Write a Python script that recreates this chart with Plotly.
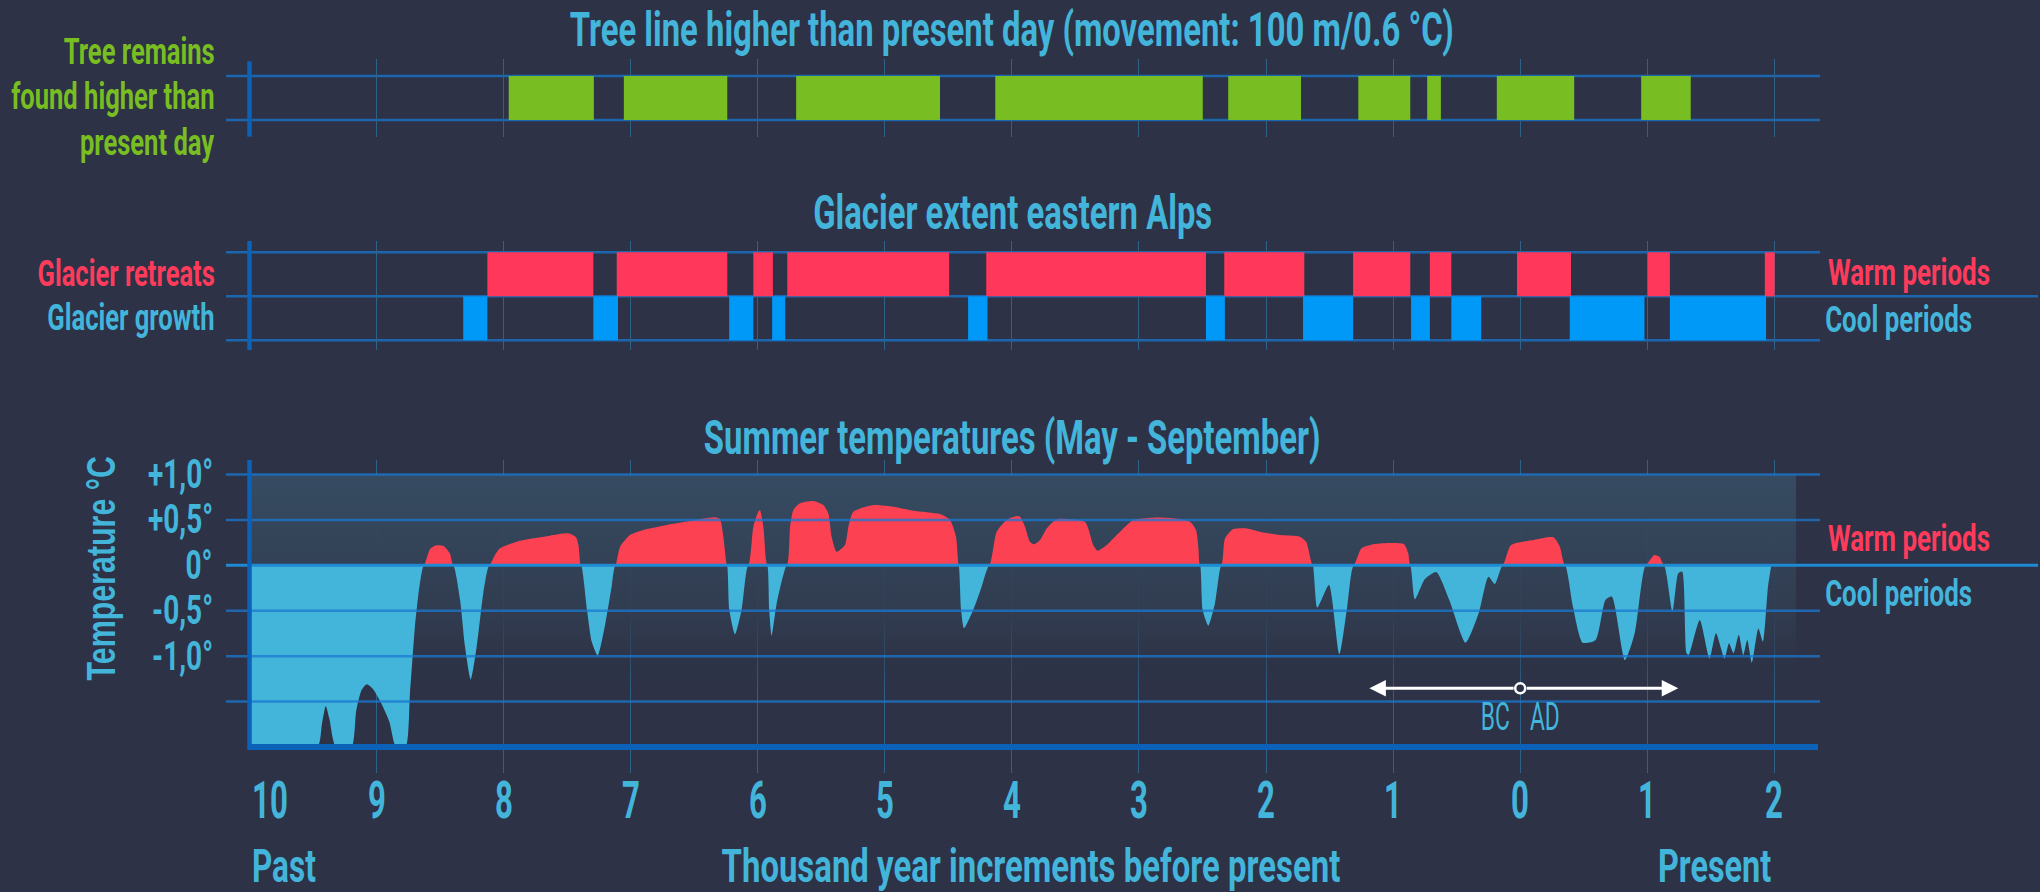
import plotly.graph_objects as go

# ---------------- data ----------------
# x values in thousand years (negative = BC, positive = AD)
tree_start = [-7.96, -7.054, -5.698, -4.131, -2.298, -1.274, -0.732, -0.184, 0.952]
tree_end = [-7.29, -6.24, -4.566, -2.498, -1.725, -0.865, -0.624, 0.425, 1.342]

retreat_start = [-8.128, -7.11, -6.035, -5.768, -4.202, -2.329, -1.315, -0.711, -0.025, 1.003, 1.925]
retreat_end = [-7.294, -6.24, -5.881, -4.494, -2.473, -1.699, -0.865, -0.542, 0.400, 1.178, 2.002]

growth_start = [-8.318, -7.294, -6.225, -5.887, -4.345, -2.473, -1.709, -0.859, -0.542, 0.390, 1.178]
growth_end = [-8.128, -7.10, -6.035, -5.784, -4.192, -2.324, -1.315, -0.711, -0.307, 0.978, 1.935]

temp_x = [-10.0, -9.466, -9.43, -9.40, -9.37, -9.32, -9.196, -9.16, -9.12, -9.078, -9.03, -8.97, -8.90,
          -8.847, -8.771, -8.737, -8.698, -8.659, -8.627, -8.58, -8.53, -8.47, -8.423, -8.396, -8.343,
          -8.304, -8.259, -8.212, -8.16, -8.113, -8.068, -8.029, -7.897, -7.766, -7.635, -7.491, -7.43,
          -7.409, -7.391, -7.344, -7.307, -7.26, -7.204, -7.15, -7.121, -7.084, -7.006, -6.901, -6.717,
          -6.533, -6.337, -6.297, -6.271, -6.25, -6.242, -6.224, -6.179, -6.127, -6.075, -6.035, -5.996,
          -5.983, -5.956, -5.935, -5.925, -5.91, -5.891, -5.851, -5.772, -5.746, -5.72, -5.668, -5.563,
          -5.484, -5.445, -5.419, -5.379, -5.314, -5.287, -5.248, -5.091, -4.933, -4.776, -4.566, -4.487,
          -4.44, -4.424, -4.419, -4.40, -4.377, -4.304, -4.238, -4.178, -4.12, -4.041, -3.962, -3.936,
          -3.897, -3.858, -3.826, -3.779, -3.726, -3.648, -3.543, -3.425, -3.399, -3.36, -3.325, -3.254,
          -3.149, -3.045, -2.887, -2.73, -2.598, -2.551, -2.533, -2.52, -2.499, -2.455, -2.402, -2.352,
          -2.323, -2.258, -2.152, -2.048, -1.89, -1.735, -1.684, -1.648, -1.633, -1.597, -1.505, -1.423,
          -1.361, -1.31, -1.249, -1.147, -0.916, -0.881, -0.865, -0.829, -0.75, -0.66, -0.558, -0.43,
          -0.327, -0.25, -0.199, -0.138, -0.072, 0.108, 0.261, 0.312, 0.353, 0.415, 0.492, 0.594, 0.671,
          0.722, 0.825, 0.901, 0.952, 0.988, 1.055, 1.096, 1.132, 1.198, 1.244, 1.275, 1.31, 1.326, 1.413,
          1.49, 1.541, 1.608, 1.643, 1.679, 1.72, 1.756, 1.787, 1.823, 1.874, 1.91, 1.95, 1.976]
temp_y = [-2.0, -2.0, -1.75, -1.55, -1.70, -2.0, -2.0, -1.6, -1.38, -1.31, -1.36, -1.50, -1.72,
          -2.0, -2.0, -1.41, -0.675, -0.198, 0.0, 0.176, 0.22, 0.21, 0.13, 0.0, -0.38,
          -0.896, -1.256, -0.896, -0.308, 0.0, 0.114, 0.187, 0.26, 0.297, 0.327, 0.352, 0.308,
          0.206, 0.0, -0.49, -0.84, -0.995, -0.675, -0.235, 0.0, 0.206, 0.334, 0.389, 0.444,
          0.488, 0.529, 0.507, 0.316, 0.06, 0.0, -0.49, -0.76, -0.49, 0.0, 0.426, 0.59,
          0.61, 0.426, 0.06, 0.0, -0.49, -0.775, -0.42, 0.0, 0.426, 0.61, 0.683, 0.709,
          0.664, 0.573, 0.316, 0.15, 0.224, 0.426, 0.59, 0.664, 0.646, 0.602, 0.565, 0.50,
          0.316, 0.06, 0.0, -0.49, -0.694, -0.49, -0.235, 0.0, 0.37, 0.5, 0.543, 0.536,
          0.426, 0.26, 0.231, 0.279, 0.407, 0.507, 0.507, 0.481, 0.407, 0.224, 0.162, 0.224,
          0.37, 0.5, 0.525, 0.518, 0.481, 0.389, 0.206, 0.0, -0.49, -0.664, -0.42, 0.0,
          0.297, 0.40, 0.407, 0.37, 0.334, 0.316, 0.26, 0.06, 0.0, -0.466, -0.217, -0.977,
          -0.455, 0.0, 0.187, 0.235, 0.235, 0.132, 0.0, -0.374, -0.15, -0.073, -0.382, -0.852,
          -0.529, -0.125, -0.206, 0.0, 0.224, 0.279, 0.308, 0.206, 0.0, -0.455, -0.852, -0.822, -0.382,
          -0.345, -1.043, -0.749, -0.235, 0.0, 0.114, 0.095, 0.0, -0.51, -0.088, -0.07, -0.969, -0.988, -0.602,
          -1.028, -0.749, -1.028, -0.859, -0.969, -0.764, -0.988, -0.822, -1.072, -0.697, -0.841, -0.235, 0.0]

x_tick_vals = [-10, -9, -8, -7, -6, -5, -4, -3, -2, -1, 0, 1, 2]
x_tick_text = ["10", "9", "8", "7", "6", "5", "4", "3", "2", "1", "0", "1", "2"]
y_tick_vals = [1.0, 0.5, 0.0, -0.5, -1.0]
y_tick_text = ["+1,0°", "+0,5°", "0°", "-0,5°", "-1,0°"]
temp_grid_vals = [1.0, 0.5, -0.5, -1.0, -1.5]

# ---------------- style ----------------
W, H = 2040, 892
ML, MR = 226, 220
BG = "#2d3246"
TXT_BLUE = "#43b5db"
GREEN = "#78bd22"
RED_TXT = "#ff3b5c"
RED_BAR = "#ff375a"
BLUE_BAR = "#0099f8"
T_RED = "#fb4152"
T_BLUE = "#43b4da"
GRID_H = "#1b66ad"
GRID_V = "#2e6287"
AXIS = "#0b62b8"
FONT = "Roboto, Liberation Sans, sans-serif"
TITLE_FONT = "Liberation Sans, DejaVu Sans, sans-serif"

X0 = (ML - 1520.2) / 127.07
X1 = (W - MR - 1520.2) / 127.07


def px(x):
    return (x - ML) / (W - ML - MR)


def py(y):
    return 1 - y / H


fig = go.Figure()

# shaded band behind the temperature curve
fig.add_trace(go.Scatter(
    x=[-10, 2.17, 2.17, -10, -10], y=[1.0, 1.0, -1.45, -1.45, 1.0],
    xaxis="x", yaxis="y", mode="lines", line=dict(width=0), fill="toself",
    fillgradient=dict(type="vertical", colorscale=[[0, "rgba(45,50,70,0)"], [0.35, "rgba(49,60,80,0.9)"],
                                                   [1, "rgba(54,76,98,1)"]]),
    hoverinfo="skip", showlegend=False))

pos = [max(v, 0) for v in temp_y]
neg = [min(v, 0) for v in temp_y]
fig.add_trace(go.Scatter(x=temp_x, y=pos, xaxis="x", yaxis="y", mode="lines",
                         line=dict(width=0, shape="spline", smoothing=0.6),
                         fill="tozeroy", fillcolor=T_RED, showlegend=False, hoverinfo="skip"))
fig.add_trace(go.Scatter(x=temp_x, y=neg, xaxis="x", yaxis="y", mode="lines",
                         line=dict(width=0, shape="spline", smoothing=0.6),
                         fill="tozeroy", fillcolor=T_BLUE, showlegend=False, hoverinfo="skip"))


def bars(starts, ends, row, color, xa, ya):
    return go.Bar(base=starts, x=[e - s for s, e in zip(starts, ends)], y=[row] * len(starts),
                  orientation="h", width=1.0, marker=dict(color=color, line=dict(width=0)),
                  xaxis=xa, yaxis=ya, showlegend=False, hoverinfo="skip")


fig.add_trace(bars(tree_start, tree_end, 0.5, GREEN, "x3", "y3"))
fig.add_trace(bars(retreat_start, retreat_end, 1.5, RED_BAR, "x2", "y2"))
fig.add_trace(bars(growth_start, growth_end, 0.5, BLUE_BAR, "x2", "y2"))

# BC / AD arrow
arrow_y = -1.355
fig.add_trace(go.Scatter(x=[0], y=[arrow_y], xaxis="x", yaxis="y", mode="markers",
                         marker=dict(size=10, color=BG, line=dict(color="white", width=2.5)),
                         showlegend=False, hoverinfo="skip"))

xa_common = dict(range=[X0, X1], tickvals=x_tick_vals[1:], showticklabels=False, showgrid=True,
                 gridcolor=GRID_V, gridwidth=1, zeroline=False, showline=False, ticks="")
ya_common = dict(showgrid=False, zeroline=False, showticklabels=False, showline=False, ticks="")

fig.update_layout(
    width=W, height=H, paper_bgcolor=BG, plot_bgcolor="rgba(0,0,0,0)",
    margin=dict(l=ML, r=MR, t=0, b=0), barmode="overlay", showlegend=False,
    xaxis=dict(domain=[0, 1], anchor="y", **xa_common),
    xaxis2=dict(domain=[0, 1], anchor="y2", matches="x", **xa_common),
    xaxis3=dict(domain=[0, 1], anchor="y3", matches="x", **xa_common),
    yaxis=dict(domain=[py(773), py(460)], range=[-2.287, 1.16], **ya_common),
    yaxis2=dict(domain=[py(350), py(241)], range=[-0.2205, 2.257], **ya_common),
    yaxis3=dict(domain=[py(136.7), py(59.3)], range=[-0.3795, 1.3795], **ya_common),
)

shapes = []
for yy in [0, 1]:
    shapes.append(dict(type="line", xref="paper", yref="y3", x0=0, x1=1, y0=yy, y1=yy,
                       line=dict(color=GRID_H, width=2.5), layer="between"))
for yy, ext in [(0, 1), (1, 1.1368), (2, 1)]:
    shapes.append(dict(type="line", xref="paper", yref="y2", x0=0, x1=ext, y0=yy, y1=yy,
                       line=dict(color=GRID_H, width=2.5), layer="between"))
for v in temp_grid_vals:
    shapes.append(dict(type="line", xref="paper", yref="y", x0=0, x1=1, y0=v, y1=v,
                       line=dict(color="rgba(25,120,210,0.75)", width=2.5), layer="above"))
shapes.append(dict(type="line", xref="paper", yref="y", x0=0, x1=1.1368, y0=0, y1=0,
                   line=dict(color="#1d8ad3", width=3), layer="above"))
for y0p, y1p in [(61.3, 136.7), (241, 350), (460, 750)]:
    shapes.append(dict(type="line", xref="x", yref="paper", x0=-10, x1=-10, y0=py(y0p), y1=py(y1p),
                       line=dict(color=AXIS, width=4.5), layer="above"))
shapes.append(dict(type="line", xref="x", yref="y", x0=-10, x1=2.344, y0=-2.0, y1=-2.0,
                   line=dict(color=AXIS, width=6), layer="above"))

ann = []


def text(x, y, s, color, size, k, xanchor="center", bold=True, xref="paper", yref="paper",
         family=FONT, **kw):
    # k = horizontal condensing factor applied in the page (reference typeface is condensed)
    ann.append(dict(x=x, y=y, xref=xref, yref=yref, text=s, showarrow=False, name=str(k),
                    xanchor=xanchor, yanchor="middle", align=xanchor,
                    font=dict(family=family, size=size, color=color, weight="bold" if bold else "normal"), **kw))


for s, yy in [("Tree line higher than present day (movement: 100 m/0.6 °C)", 29),
              ("Glacier extent eastern Alps", 212), ("Summer temperatures (May - September)", 437)]:
    text(px(1012), py(yy), s, TXT_BLUE, 49, 0.67)

for s, yy in [("Tree remains", 52), ("found higher than", 97.5), ("present day", 143)]:
    text(px(217), py(yy), s, GREEN, 36, 0.71, xanchor="right")
text(px(217), py(274), "Glacier retreats", RED_TXT, 36, 0.71, xanchor="right")
text(px(217), py(318), "Glacier growth", TXT_BLUE, 36, 0.71, xanchor="right")
text(px(1992), py(273), "Warm periods", RED_TXT, 36, 0.72, xanchor="right")
text(px(1974), py(320), "Cool periods", TXT_BLUE, 36, 0.72, xanchor="right")
text(px(1992), py(539), "Warm periods", RED_TXT, 36, 0.72, xanchor="right")
text(px(1974), py(594), "Cool periods", TXT_BLUE, 36, 0.72, xanchor="right")

for v, s in zip(y_tick_vals, y_tick_text):
    text(px(215), v, s, TXT_BLUE, 40, 0.7, xanchor="right", yref="y")

for v, s in zip(x_tick_vals, x_tick_text):
    text(v, py(800), s, TXT_BLUE, 52, 0.6, xanchor="left" if v == -10 else "center", xref="x")

text(px(250), py(865), "Past", TXT_BLUE, 47, 0.67, xanchor="left")
text(px(1031), py(865), "Thousand year increments before present", TXT_BLUE, 47, 0.70)
text(px(1773), py(865), "Present", TXT_BLUE, 47, 0.69, xanchor="right")

text(px(101), py(568), "Temperature °C", TXT_BLUE, 40, 0.76, family=TITLE_FONT, textangle=-90)

text(-0.199, -1.671, "BC", TXT_BLUE, 38, 0.6, bold=False, xref="x", yref="y")
text(0.198, -1.671, "AD", TXT_BLUE, 38, 0.6, bold=False, xref="x", yref="y")
for tip in [-1.187, 1.244]:
    ann.append(dict(x=tip, y=arrow_y, ax=0.04 if tip > 0 else -0.04, ay=arrow_y, xref="x", yref="y",
                    axref="x", ayref="y", text="", showarrow=True, arrowhead=2, arrowsize=1.1,
                    arrowwidth=3, arrowcolor="white"))

fig.update_layout(shapes=shapes, annotations=ann)

# page setup + condensed rendering of the labels (the reference uses a condensed typeface)
post = """
var st = document.createElement('style');
st.innerHTML = 'html,body{margin:0;padding:0;background:#2d3246;overflow:hidden;}';
document.head.appendChild(st);
var gd = document.getElementById('{plot_id}');
var anns = (gd.layout && gd.layout.annotations) || [];
gd.querySelectorAll('g.annotation').forEach(function(g){
  var a = anns[+g.getAttribute('data-index')];
  if (!a || !a.name) return;
  var k = parseFloat(a.name);
  if (!(k > 0)) return;
  var t = g.querySelector('text.annotation-text');
  if (!t || !t.textContent) return;
  var w = t.getComputedTextLength();
  t.setAttribute('lengthAdjust', 'spacingAndGlyphs');
  t.setAttribute('textLength', (w * k).toFixed(1));
});
"""
fig.write_html("out.html", post_script=post, config={"displayModeBar": False})
